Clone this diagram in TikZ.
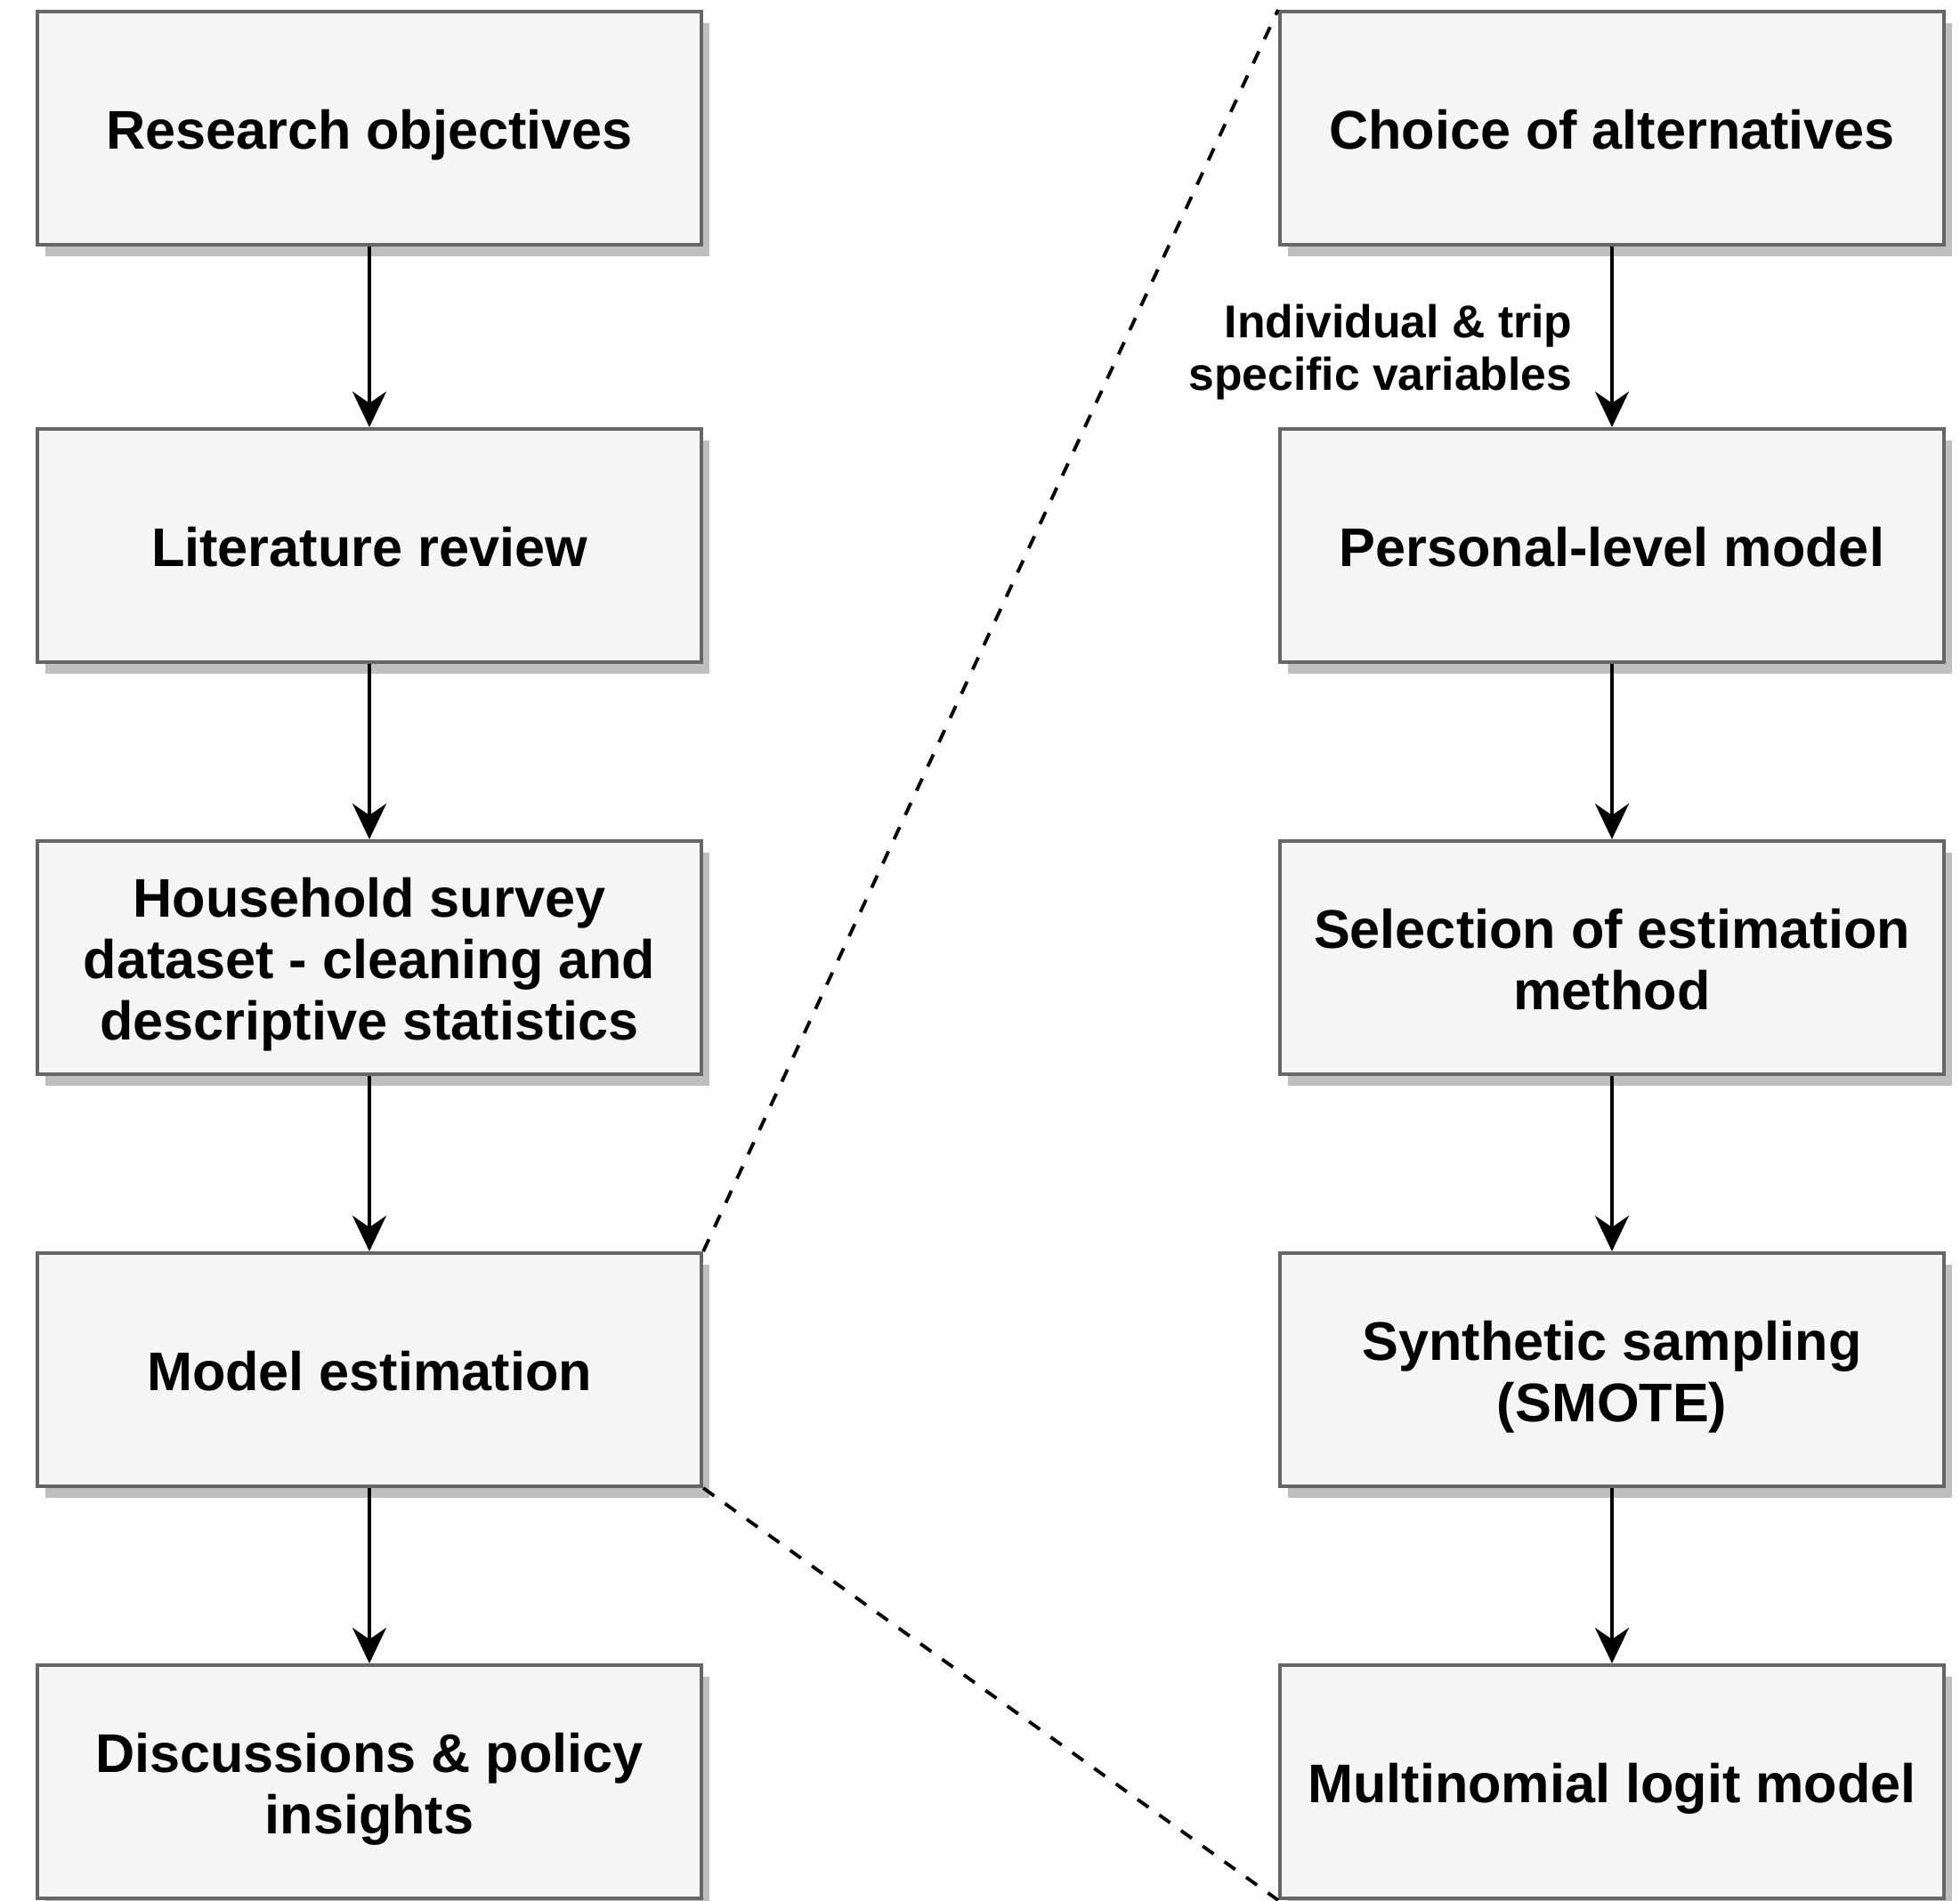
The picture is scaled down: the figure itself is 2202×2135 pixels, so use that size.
\documentclass[tikz,border=0pt]{standalone}
\usepackage{fontspec}
\setmainfont{Liberation Sans}
\usetikzlibrary{arrows.meta,shadows}
\definecolor{boxfill}{HTML}{F5F5F5}
\definecolor{boxborder}{HTML}{666666}
\definecolor{boxshadow}{HTML}{BFBFBF}
% centred lines of a stage box, each line with a fixed strut, set a little low
\newcommand{\stagelines}[1]{\raisebox{-0.1cm}[\height][\depth]{\begin{tabular}{@{}c@{}}#1\end{tabular}}}
\begin{document}
\begin{tikzpicture}[x=0.01cm,y=-0.01cm,
  stage/.style={draw=boxborder, line width=1.1pt, fill=boxfill,
    minimum width=7.46cm, minimum height=2.62cm, inner sep=0pt,
    font=\fontsize{17.4}{19.6}\selectfont\bfseries,
    drop shadow={shadow xshift=0.09cm, shadow yshift=-0.13cm, fill=boxshadow, opacity=1}},
  flow/.style={draw=black, line width=1.1pt, -{Stealth[length=0.4cm,width=0.38cm,inset=0.13cm]}},
  zoomline/.style={draw=black, line width=1.1pt, dash pattern=on 0.15cm off 0.15cm},
  note/.style={align=right, inner sep=0pt, font=\fontsize{14.7}{16.8}\selectfont\bfseries}
]
\useasboundingbox (0,0) rectangle (2202,2135);

% main research stages
\node[stage] (obj)  at (415,144)  {\stagelines{Research objectives}};
\node[stage] (lit)  at (415,613)  {\stagelines{Literature review}};
\node[stage] (data) at (415,1076) {\stagelines{Household survey\\dataset - cleaning and\\descriptive statistics}};
\node[stage] (est)  at (415,1539) {\stagelines{Model estimation}};
\node[stage] (disc) at (415,2002) {\stagelines{Discussions \& policy\\insights}};

% model estimation in detail
\node[stage] (alt)   at (1811,144)  {\stagelines{Choice of alternatives}};
\node[stage] (pers)  at (1811,613)  {\stagelines{Personal-level model}};
\node[stage] (sel)   at (1811,1076) {\stagelines{Selection of estimation\\method}};
\node[stage] (smote) at (1811,1539) {\stagelines{Synthetic sampling\\(SMOTE)}};
\node[stage] (mnl)   at (1811,2002) {\stagelines{Multinomial logit model}};

\draw[flow] (obj) -- (lit);
\draw[flow] (lit) -- (data);
\draw[flow] (data) -- (est);
\draw[flow] (est) -- (disc);

\draw[flow] (alt) -- (pers);
\draw[flow] (pers) -- (sel);
\draw[flow] (sel) -- (smote);
\draw[flow] (smote) -- (mnl);

\node[note, anchor=east] (vars) at (1767,396) {Individual \& trip\\specific variables};

% expansion lines
\draw[zoomline] (est.north east) -- (alt.north west);
\draw[zoomline] (est.south east) -- (mnl.south west);
\end{tikzpicture}
\end{document}
